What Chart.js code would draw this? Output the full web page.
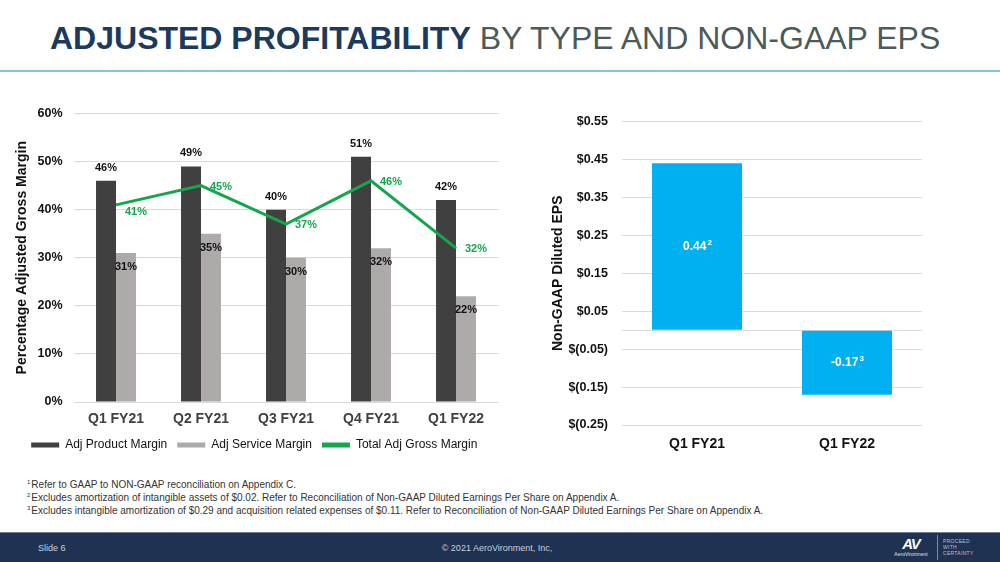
<!DOCTYPE html>
<html lang="en">
<head>
<meta charset="UTF-8">
<title>Adjusted Profitability by Type and Non-GAAP EPS</title>
<script src="https://cdn.jsdelivr.net/npm/chart.js"></script>
<style>
    body { margin: 0; width: 1000px; height: 562px; position: relative; background: #fff; font-family: "Liberation Sans", Arial, sans-serif; overflow: hidden; }
    .title { position: absolute; left: 50px; top: 22px; font-size: 32px; line-height: 32px; white-space: nowrap; }
    .title b { color: #1b3a5c; }
    .title span { color: #4b5b57; }
    .rule { position: absolute; left: 0; top: 70px; width: 1000px; height: 2px; background: #86c8d8; }
    #marginChart { position: absolute; left: 0; top: 95px; }
    #epsChart { position: absolute; left: 536px; top: 100px; }
    .notes { position: absolute; left: 27px; top: 478px; font-size: 10px; line-height: 13px; color: #333; }
    .notes sup { font-size: 6px; vertical-align: 4px; line-height: 0; margin-right: 1px; }
    .footer { position: absolute; left: 0; top: 532px; width: 1000px; height: 30px; background: #1f3252; border-top: 1px solid #6f7f99; }
    .footer .slide { position: absolute; left: 38px; top: 10px; font-size: 9px; color: #c9d0dc; }
    .footer .copy { position: absolute; left: 0; width: 994px; text-align: center; top: 10px; font-size: 9px; color: #c9d0dc; }
    .logo { position: absolute; left: 892px; top: 3px; width: 38px; text-align: center; color: #fff; }
    .logo .av { font-size: 15px; font-weight: bold; font-style: italic; letter-spacing: -1px; line-height: 15px; }
    .logo .name { font-size: 5px; line-height: 6px; color: #dfe4ec; }
    .divider { position: absolute; left: 937px; top: 2px; width: 1px; height: 25px; background: #7d8ca6; }
    .tag { position: absolute; left: 943px; top: 5px; font-size: 5px; line-height: 6px; color: #b8c1d1; letter-spacing: 0.3px; }
</style>
</head>
<body>

<div class="title"><b>ADJUSTED PROFITABILITY</b> <span>BY TYPE AND NON-GAAP EPS</span></div>
<div class="rule"></div>

<canvas id="marginChart" width="510" height="366"></canvas>
<canvas id="epsChart" width="464" height="360"></canvas>

<div class="notes">
    <div><sup>1</sup>Refer to GAAP to NON-GAAP reconciliation on Appendix C.</div>
    <div><sup>2</sup>Excludes amortization of intangible assets of $0.02. Refer to Reconciliation of Non-GAAP Diluted Earnings Per Share on Appendix A.</div>
    <div><sup>3</sup>Excludes intangible amortization of $0.29 and acquisition related expenses of $0.11. Refer to Reconciliation of Non-GAAP Diluted Earnings Per Share on Appendix A.</div>
</div>

<div class="footer">
    <div class="slide">Slide 6</div>
    <div class="copy">© 2021 AeroVironment, Inc,</div>
    <div class="logo"><div class="av">AV</div><div class="name">AeroVironment</div></div>
    <div class="divider"></div>
    <div class="tag">PROCEED<br>WITH<br>CERTAINTY</div>
</div>

<script>
    // Werte
    const quarters = ['Q1 FY21', 'Q2 FY21', 'Q3 FY21', 'Q4 FY21', 'Q1 FY22'];
    const productMargin = [46, 49, 40, 51, 42];
    const serviceMargin = [31, 35, 30, 32, 22];
    const totalMargin = [41, 45, 37, 46, 32];
    const marginTicks = [0, 10, 20, 30, 40, 50, 60];

    const epsQuarters = ['Q1 FY21', 'Q1 FY22'];
    const epsValues = [0.44, -0.17];
    const epsNotes = ['2', '3'];
    const epsTicks = [-0.25, -0.15, -0.05, 0, 0.05, 0.15, 0.25, 0.35, 0.45, 0.55];

    const FONT = '"Liberation Sans", Arial, sans-serif';
    const GRID = '#d9d9d9';

    function fmtEps(v) {
        if (Math.abs(v) < 1e-9) return '';
        if (v < 0) return '$(' + Math.abs(v).toFixed(2) + ')';
        return '$' + v.toFixed(2);
    }

    // Datenbeschriftungen zeichnen
    const valueLabels = {
        id: 'valueLabels',
        afterDatasetsDraw(chart) {
            const ctx = chart.ctx;
            chart.data.datasets.forEach((ds, i) => {
                const cfg = ds.valueLabel;
                if (!cfg) return;
                const meta = chart.getDatasetMeta(i);
                meta.data.forEach((el, j) => {
                    const v = ds.data[j];
                    const txt = cfg.format(v);
                    ctx.save();
                    ctx.fillStyle = cfg.color;
                    ctx.font = 'bold ' + cfg.size + 'px ' + FONT;
                    if (cfg.pos === 'top') {
                        ctx.textAlign = 'center'; ctx.textBaseline = 'middle';
                        ctx.fillText(txt, el.x, el.y - 13);
                    } else if (cfg.pos === 'inside') {
                        ctx.textAlign = 'center'; ctx.textBaseline = 'middle';
                        ctx.fillText(txt, el.x, el.y + 14);
                    } else if (cfg.pos === 'right') {
                        ctx.textAlign = 'left'; ctx.textBaseline = 'middle';
                        ctx.fillText(txt, el.x + 9, el.y + (j === 0 ? 7 : 1));
                    } else if (cfg.pos === 'center') {
                        const sup = cfg.notes ? cfg.notes[j] : '';
                        const w1 = ctx.measureText(txt).width;
                        ctx.font = 'bold 8px ' + FONT;
                        const w2 = ctx.measureText(sup).width;
                        const cy = (el.y + el.base) / 2;
                        const x0 = el.x - (w1 + w2) / 2;
                        ctx.textAlign = 'left'; ctx.textBaseline = 'middle';
                        ctx.font = 'bold ' + cfg.size + 'px ' + FONT;
                        ctx.fillText(txt, x0, cy);
                        ctx.font = 'bold 8px ' + FONT;
                        ctx.fillText(sup, x0 + w1 + 1, cy - 4);
                    }
                    ctx.restore();
                });
            });
        }
    };

    new Chart(document.getElementById('marginChart'), {
        type: 'bar',
        data: {
            labels: quarters,
            datasets: [
                {
                    label: 'Adj Product Margin', data: productMargin, backgroundColor: '#404040', order: 2,
                    valueLabel: { pos: 'top', color: '#111', size: 11, format: v => v + '%' }
                },
                {
                    label: 'Adj Service Margin', data: serviceMargin, backgroundColor: '#aeaaaa', order: 2,
                    valueLabel: { pos: 'inside', color: '#111', size: 11, format: v => v + '%' }
                },
                {
                    type: 'line', label: 'Total Adj Gross Margin', data: totalMargin,
                    borderColor: '#14a64b', backgroundColor: '#14a64b', borderWidth: 3,
                    pointRadius: 0, tension: 0, order: 1,
                    valueLabel: { pos: 'right', color: '#14a64b', size: 11, format: v => v + '%' }
                }
            ]
        },
        options: {
            responsive: false,
            animation: false,
            layout: { padding: { left: 10, top: 17, right: 11.5, bottom: 0 } },
            datasets: { bar: { barPercentage: 1, categoryPercentage: 0.47 } },
            plugins: {
                legend: {
                    position: 'bottom',
                    labels: {
                        font: { family: FONT, size: 12 }, color: '#111',
                        boxWidth: 28, boxHeight: 5,
                        sort: (a, b) => a.datasetIndex - b.datasetIndex,
                        generateLabels(chart) {
                            const items = Chart.defaults.plugins.legend.labels.generateLabels(chart);
                            items.forEach(it => { it.lineWidth = 0; });
                            return items;
                        }
                    }
                },
                tooltip: { enabled: false }
            },
            scales: {
                x: {
                    grid: { display: false, drawTicks: false },
                    border: { display: false },
                    ticks: { font: { family: FONT, size: 14, weight: 'bold' }, color: '#404040', padding: 9 },
                    afterFit(s) { s.height = 27; }
                },
                y: {
                    min: 0, max: 60,
                    afterBuildTicks(s) { s.ticks = marginTicks.map(v => ({ value: v })); },
                    grid: { color: GRID, drawTicks: false },
                    border: { display: false },
                    ticks: { font: { family: FONT, size: 12.5, weight: 'bold' }, color: '#111', padding: 11, callback: v => v + '%' },
                    title: { display: true, text: 'Percentage Adjusted Gross Margin', font: { family: FONT, size: 14, weight: 'bold' }, color: '#111' },
                    afterFit(s) { s.width = 63.5; }
                }
            }
        },
        plugins: [valueLabels]
    });

    new Chart(document.getElementById('epsChart'), {
        type: 'bar',
        data: {
            labels: epsQuarters,
            datasets: [{
                label: 'Non-GAAP Diluted EPS', data: epsValues, backgroundColor: '#00b0f0',
                barPercentage: 0.6, categoryPercentage: 1,
                valueLabel: { pos: 'center', color: '#fff', size: 12, notes: epsNotes, format: v => v.toFixed(2) }
            }]
        },
        options: {
            responsive: false,
            animation: false,
            layout: { padding: { left: 10, top: 21, right: 78, bottom: 0 } },
            plugins: { legend: { display: false }, tooltip: { enabled: false } },
            scales: {
                x: {
                    grid: { display: false, drawTicks: false },
                    border: { display: false },
                    ticks: { font: { family: FONT, size: 14, weight: 'bold' }, color: '#111', padding: 11 },
                    afterFit(s) { s.height = 35; }
                },
                y: {
                    min: -0.25, max: 0.55,
                    afterBuildTicks(s) { s.ticks = epsTicks.map(v => ({ value: v })); },
                    grid: { color: GRID, drawTicks: false },
                    border: { display: false },
                    ticks: { font: { family: FONT, size: 12.5, weight: 'bold' }, color: '#111', padding: 14, callback: v => fmtEps(v) },
                    title: { display: true, text: 'Non-GAAP Diluted EPS', font: { family: FONT, size: 14, weight: 'bold' }, color: '#111' },
                    afterFit(s) { s.width = 76; }
                }
            }
        },
        plugins: [valueLabels]
    });
</script>
</body>
</html>
